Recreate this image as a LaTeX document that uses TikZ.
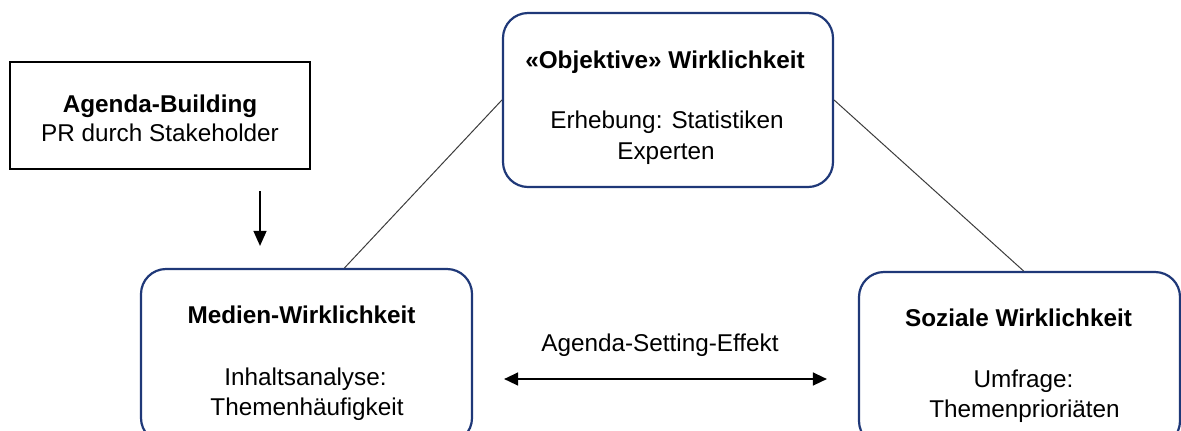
\documentclass[tikz,border=0pt]{standalone}
\usepackage{fontspec}
\setmainfont{Liberation Sans}
\usetikzlibrary{arrows.meta}
\definecolor{boxblue}{RGB}{31,56,120}
\definecolor{linegray}{RGB}{60,60,60}
\begin{document}
\begin{tikzpicture}[x=0.5pt,y=-0.5pt,
  txt/.style={anchor=base,inner sep=0pt,font=\fontsize{12.15pt}{14.6pt}\selectfont},
  btxt/.style={anchor=base,inner sep=0pt,font=\fontsize{12.15pt}{14.6pt}\selectfont\bfseries},
  sbox/.style={draw=black,line width=1.1pt,inner sep=0pt},
  rbox/.style={draw=boxblue,line width=1.1pt,rounded corners=12.5pt,inner sep=0pt},
  conn/.style={draw=linegray,line width=0.5pt},
  arr/.style={draw=black,line width=0.7pt,-{Triangle[length=7.5pt,width=6.5pt]}},
  darr/.style={draw=black,line width=0.7pt,{Triangle[length=7pt,width=6.5pt]}-{Triangle[length=7pt,width=6.5pt]}}]
\useasboundingbox (0,0) rectangle (1181,430);
\clip (0,0) rectangle (1181,430);
% boxes
\node[sbox, minimum width=150pt, minimum height=53.5pt] (ab) at (160,115.5) {};
\node[rbox, minimum width=165pt, minimum height=87pt] (obj) at (668,100) {};
\node[rbox, minimum width=165.5pt, minimum height=87pt] (med) at (306.5,356) {};
\node[rbox, minimum width=160.5pt, minimum height=87pt] (soz) at (1019.5,359) {};
% texts
\node[btxt] (ab1) at (160,112) {Agenda-Building};
\node[txt] (ab2) at (160,141) {PR durch Stakeholder};
\node[btxt] (obj1) at (665,68) {«Objektive» Wirklichkeit};
\node[txt] (obj2) at (667,128) {Erhebung: Statistiken};
\node[txt] (obj3) at (666,159) {Experten};
\node[btxt] (med1) at (301.5,323) {Medien-Wirklichkeit};
\node[txt] (med2) at (305.5,385) {Inhaltsanalyse:};
\node[txt] (med3) at (307,415) {Themenhäufigkeit};
\node[btxt] (soz1) at (1018.5,326) {Soziale Wirklichkeit};
\node[txt] (soz2) at (1023.5,387) {Umfrage:};
\node[txt] (soz3) at (1024.5,417) {Themenprioriäten};
\node[txt] (ase) at (660,351) {Agenda-Setting-Effekt};
% connectors
\draw[conn] (obj.west) -- ([xshift=19pt]med.north);
\draw[conn] (obj.east) -- ([xshift=2pt]soz.north);
\draw[arr] ([xshift=50pt,yshift=-10.5pt]ab.south) -- ([xshift=-23.25pt,yshift=11pt]med.north);
\draw[darr] ([xshift=15.5pt,yshift=-11.5pt]med.east) -- ([xshift=-15.5pt,yshift=-10pt]soz.west);
\end{tikzpicture}
\end{document}
